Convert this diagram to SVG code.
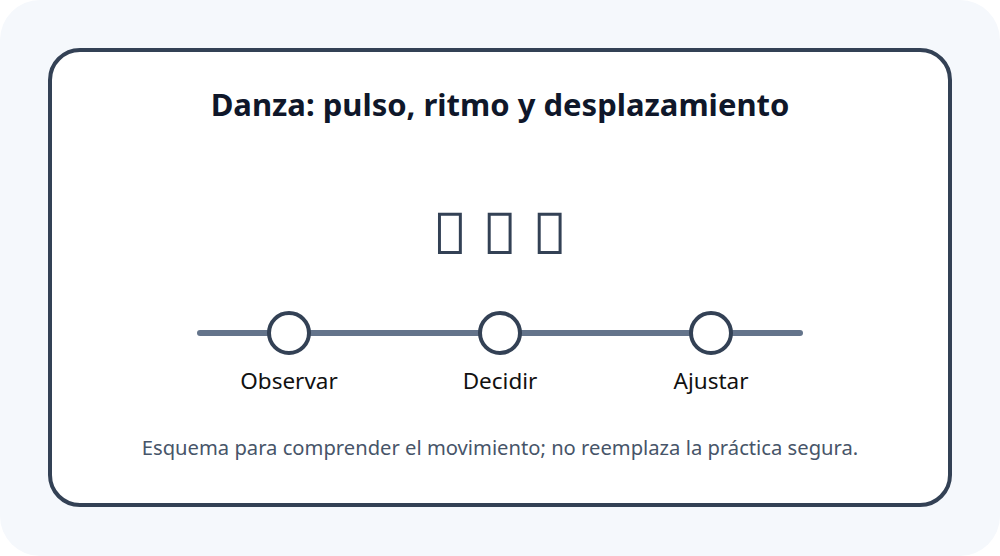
<svg xmlns="http://www.w3.org/2000/svg" width="1000" height="556" viewBox="0 0 1000 556">
<style>
.t{font-family:"Noto Sans","Open Sans",sans-serif;text-anchor:middle}
.title{font-size:31px;font-weight:700;fill:#0f172a}
.lbl{font-size:22.5px;fill:#111111}
.note{font-size:20.2px;fill:#475569}
.icon{font-size:58px;fill:#334155}
.node{fill:#ffffff;stroke:#334155;stroke-width:4}
</style>
<rect x="0" y="0" width="1000" height="556" rx="40" fill="#f5f8fc"/>
<rect x="50" y="50" width="900" height="455" rx="30" fill="#ffffff" stroke="#334155" stroke-width="4"/>
<text class="t title" x="500" y="116">Danza: pulso, ritmo y desplazamiento</text>
<text class="t icon" x="500" y="254">&#xE000; &#xE001; &#xE002;</text>
<g id="connectors">
<line x1="200" y1="333" x2="800" y2="333" stroke="#64748b" stroke-width="6" stroke-linecap="round"/>
</g>
<g id="observar"><circle class="node" cx="289" cy="333" r="20"/><text class="t lbl" x="289" y="389">Observar</text></g>
<g id="decidir"><circle class="node" cx="500" cy="333" r="20"/><text class="t lbl" x="500" y="389">Decidir</text></g>
<g id="ajustar"><circle class="node" cx="711" cy="333" r="20"/><text class="t lbl" x="711" y="389">Ajustar</text></g>
<text class="t note" x="500" y="455">Esquema para comprender el movimiento; no reemplaza la práctica segura.</text>
</svg>
